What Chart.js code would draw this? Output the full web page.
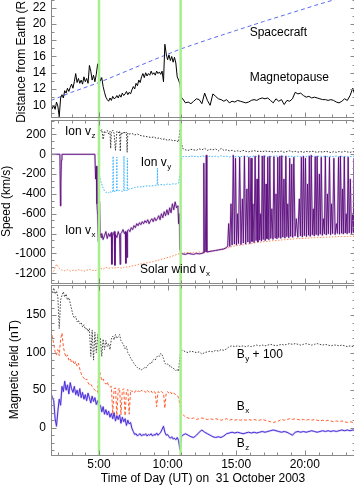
<!DOCTYPE html>
<html><head><meta charset="utf-8">
<script src="https://cdn.jsdelivr.net/npm/chart.js@4.4.1/dist/chart.umd.min.js"></script>
<style>
html,body{margin:0;padding:0;background:#fff;overflow:hidden;width:354px;height:485px;}
#c{position:absolute;left:0;top:-10px;}
</style></head><body>
<canvas id="c" width="360" height="495" style="width:360px;height:495px"></canvas>
<script>
// ---------- time grids (hours UT) ----------
const coarseHours = [1.5,1.7,1.9,
 2.1,2.3,2.5,2.7,2.9, 3.1,3.3,3.5,3.7,3.9, 4.1,4.3,4.5,4.7,4.9,
 5.1,5.3,5.5,5.7,5.9, 6.1,6.3,6.5,6.7,6.9, 7.1,7.3,7.5,7.7,7.9,
 8.1,8.3,8.5,8.7,8.9, 9.1,9.3,9.5,9.7,9.9, 10.1,10.3,10.5,10.7,10.9,
 11.1,11.3,11.5,11.7,11.9, 12.1,12.3,12.5,12.7,12.9, 13.1,13.3,13.5,13.7,13.9,
 14.1,14.3,14.5,14.7,14.9, 15.1,15.3,15.5,15.7,15.9, 16.1,16.3,16.5,16.7,16.9,
 17.1,17.3,17.5,17.7,17.9, 18.1,18.3,18.5,18.7,18.9, 19.1,19.3,19.5,19.7,19.9,
 20.1,20.3,20.5,20.7,20.9, 21.1,21.3,21.5,21.7,21.9, 22.1,22.3,22.5,22.7,22.9,
 23.1,23.3,23.5,23.7];
const fineHours = [1.5,1.6,1.7,1.8,1.9,2.0,2.1,2.2,2.3,2.4,
 2.5,2.6,2.7,2.8,2.9,3.0,3.1,3.2,3.3,3.4,
 3.5,3.6,3.7,3.8,3.9,4.0,4.1,4.2,4.3,4.4,
 4.5,4.6,4.7,4.8,4.9,5.0,5.1,5.2,5.3,5.4,
 5.5,5.6,5.7,5.8,5.9,6.0,6.1,6.2,6.3,6.4,
 6.5,6.6,6.7,6.8,6.9,7.0,7.1,7.2,7.3,7.4,
 7.5,7.6,7.7,7.8,7.9,8.0,8.1,8.2,8.3,8.4,
 8.5,8.6,8.7,8.8,8.9,9.0,9.1,9.2,9.3,9.4,
 9.5,9.6,9.7,9.8,9.9,10.0,10.1,10.2,10.3,10.4,
 10.5,10.6,10.7,10.8,10.9,11.0];
const fieldHours = fineHours.concat(coarseHours.slice(48)); // 1.5..11.0 by 0.1, then 11.1..23.7 by 0.2
const tailHours = coarseHours.slice(49);                     // 11.3 ... 23.7

// ---------- panel 1: distance (R_E) ----------
const magnetopause = [
 10.2,9.6,10.0,9.5,10.4,9.9,8.6,10.9,11.3,10.9,
 11.8,11.5,12.1,11.7,12.2,12.6,12.1,12.9,13.9,12.8,
 13.3,12.7,13.1,12.6,13.5,12.9,13.3,12.7,14.9,14.2,
 13.1,13.7,12.9,13.8,15.1,13.9,13.0,13.4,12.3,11.6,
 11.0,10.7,10.5,10.9,10.6,11.1,10.8,10.9,11.2,10.9,
 11.3,11.0,11.5,11.2,11.4,11.7,11.3,11.6,11.4,11.9,
 12.3,12.0,12.7,12.4,13.1,12.8,13.5,13.9,13.4,14.0,
 13.6,13.9,13.7,14.2,13.8,14.0,13.7,14.2,13.9,14.1,
 13.8,14.2,12.9,17.5,16.3,15.6,16.2,15.5,16.0,15.3,
 15.9,15.2,13.5,13.1,12.6,11.0,
 10.8,10.3,10.4,10.2,10.5, 10.8,10.7,10.2,11.5,10.6, 10.0,11.4,11.1,10.8,10.7,
 10.5,10.7,10.3,10.5,10.4, 10.6,10.5,10.4,10.3,10.4, 10.6,10.7,10.6,10.8,10.9,
 10.8,10.9,10.6,10.3,10.8, 10.5,10.7,10.1,10.6,10.5, 10.8,11.6,11.4,11.5,11.2,
 11.0,11.1,10.9,11.0,10.9, 10.8,10.7,10.7,10.6,10.7, 10.6,10.4,10.3,10.5,10.8,
 10.6,11.2,12.1,11.0];
const scHours = [1.5, 3, 5, 7, 9, 11, 13, 15, 17, 19, 21, 23.7];
const scDist  = [10.6, 11.6, 12.8, 14.2, 15.6, 16.95, 18.1, 19.2, 20.3, 21.35, 22.4, 23.75];

// ---------- panel 2: speeds (km/s) ----------
const solarWindVx = [-1200,-1180,-1110,
 -1150,-1170,-1175,-1165,-1180, -1170,-1175,-1165,-1170,-1180, -1170,-1160,-1170,-1175,-1165,
 -1150,-1160,-1140,-1150,-1145, -1150,-1140,-1145,-1150,-1135, -1140,-1130,-1125,-1120,-1110,
 -1105,-1100,-1095,-1090,-1085, -1075,-1070,-1060,-1055,-1045, -1040,-1030,-1020,-1010,-1000,
 -995,-995,-990,-995,-990, -990,-985,-990,-980,-985, -975,-970,-975,-965,-960,
 -955,-950,-940,-930,-925, -920,-915,-915,-910,-905, -900,-895,-890,-888,-885,
 -880,-878,-875,-872,-870, -868,-865,-862,-860,-858, -855,-853,-850,-850,-848,
 -846,-845,-843,-842,-840, -840,-838,-836,-835,-834, -833,-832,-831,-830,-830,
 -829,-828,-827,-826];

const vzHours = [4.95,5.0,5.1,5.2,5.3,5.4,5.5,5.6,5.7,5.8,
 5.85,5.9,6.0,6.1,6.2,6.3,6.4,6.5,6.55,6.6,
 6.7,6.8,6.9,7.0,7.05,7.1,7.2,7.4,7.6,7.8,
 8.0,8.2,8.4,8.6,8.8,9.0,9.2,9.4,9.6,9.8,
 10.0,10.2,10.4,10.6,10.8,10.9,11.0,11.1].concat(tailHours);
const ionVz = [0,260,230,250,150,235,220,240,205,230,
 60,220,245,210,40,230,215,235,30,220,
 200,230,210,225,20,215,205,210,195,205,
 190,185,180,175,170,175,160,165,150,155,
 140,150,135,140,125,250,120,60,
 45,40,50,45, 40,55,45,60,40, 50,45,55,35,60, 40,45,35,40,30, 35,28,40,30,25,
 30,38,28,32,25, 35,28,30,22,30, 26,32,20,28,35, 25,30,22,28,20, 30,24,32,26,20,
 28,22,30,25,18, 26,20,28,22,30, 24,20,26,22];

const vyHours = [4.95,5.0,5.1,5.2,5.3,5.4,5.5,5.6,5.7,5.8,
 5.9,6.0,6.03,6.06,6.2,6.28,6.3,6.32,6.5,6.7,
 6.8,6.82,6.84,7.0,7.05,7.07,7.09,7.2,7.4,7.6,
 7.8,8.0,8.2,8.4,8.6,8.8,9.0,9.2,9.24,9.26,
 9.28,9.4,9.6,9.8,10.0,10.2,10.4,10.6,10.8,10.9,
 11.0,11.1].concat(tailHours);
const ionVy = [0,-190,-260,-300,-340,-370,-385,-380,-390,-375,
 -385,-380,-20,-380,-370,-375,-30,-370,-365,-375,
 -370,-15,-365,-360,-370,-40,-360,-350,-345,-335,
 -330,-330,-325,-320,-318,-322,-315,-312,-310,-140,
 -310,-308,-305,-310,-300,-305,-298,-300,-290,-200,
 -60,-25,
 -20,-25,-18,-22, -20,-28,-15,-22,-25, -18,-24,-20,-26,-15, -22,-20,-28,-18,-24,
 -20,-25,-18,-22,-20, -26,-18,-22,-20,-24, -18,-22,-25,-20,-16, -22,-20,-26,-18,-22,
 -20,-24,-18,-22,-20, -25,-18,-22,-20,-24, -18,-22,-20,-26,-20, -22,-18,-24,-20,-22,
 -20,-25,-18,-22];

const vxHours = [
 1.5,2.15,2.19,2.22,2.26,2.3,4.7,4.75,4.8,4.85,4.9,4.95,
 5.0,5.04,5.08,5.15,5.2,5.3,5.4,5.5,5.6,5.7,
 5.8,5.9,5.94,5.98,6.05,6.12,6.16,6.2,6.3,6.4,
 6.5,6.54,6.58,6.65,6.75,6.85,6.92,6.96,7.0,7.04,
 7.08,7.15,7.25,7.35,7.45,7.55,7.65,7.75,7.85,7.95,
 8.05,8.15,8.25,8.35,8.45,8.55,8.65,8.75,8.85,8.95,
 9.05,9.15,9.25,9.35,9.45,9.55,9.65,9.75,9.85,9.95,
 10.05,10.15,10.25,10.35,10.45,10.55,10.65,10.75,10.8,10.85,
 10.9,10.95,11.0,
 11.1,11.3,11.5,11.7,11.9,12.1,12.3,12.5,12.6,12.64,
 12.68,12.75,12.82,12.86,12.9,13.1,13.3,13.5,13.7,13.9,
 14.1,14.3,
 14.38,14.45,14.53,14.62,14.7,14.79,14.87,14.95,15.02,15.1,
 15.17,15.25,15.35,15.45,15.52,15.6,15.69,15.78,15.85,15.92,
 16.0,16.08,16.15,16.22,16.3,16.38,16.45,16.52,16.58,16.64,
 16.71,16.78,16.84,16.9,16.97,17.04,17.11,17.18,17.24,17.3,
 17.38,17.45,17.52,17.6,17.68,17.75,17.83,17.9,17.97,18.03,
 18.1,18.18,18.25,18.32,18.4,18.48,18.55,18.62,18.69,18.76,
 18.83,18.9,18.97,19.05,19.12,19.2,19.29,19.38,19.49,19.6,
 19.68,19.75,19.82,19.9,19.97,20.05,20.12,20.2,20.27,20.33,
 20.4,20.47,20.55,20.62,20.69,20.76,20.83,20.9,20.98,21.06,
 21.13,21.2,21.28,21.35,21.43,21.5,21.57,21.65,21.72,21.8,
 21.88,21.95,22.03,22.12,22.21,22.3,22.38,22.46,22.53,22.6,
 22.68,22.75,22.81,22.88,22.95,23.02,23.09,23.16,23.24,23.32,
 23.4,23.48,23.54,23.6,23.66,23.7];
const ionVx = [
 0,0,-520,-300,-60,0,0,-250,-120,-500,-620,-880,
 -760,-480,-790,-840,-800,-860,-820,-780,-850,-800,
 -830,-790,-1110,-830,-800,-780,-1120,-810,-840,-780,
 -820,-1110,-800,-790,-760,-800,-780,-1100,-790,-1040,
 -770,-760,-780,-740,-760,-720,-740,-700,-720,-690,
 -710,-680,-700,-670,-690,-660,-700,-670,-650,-680,
 -640,-670,-650,-620,-660,-600,-640,-580,-620,-560,
 -610,-540,-590,-500,-560,-480,-540,-520,-700,-600,
 -960,-990,-1000,
 -1005,-1010,-1000,-1005,-1010,-1000,-1005,-1000,-995,-90,
 -990,-980,-10,-985,-985,-980,-975,-970,-965,-960,
 -955,-940,
 -925,-700,-930,-500,-915,-10,-905,-40,-915,-600,
 -900,-30,-910,-450,-895,-20,-905,-350,-885,-30,
 -900,-40,-880,-500,-890,-20,-870,-250,-885,-10,
 -865,-600,-875,-20,-860,-15,-870,-300,-852,-30,
 -862,-20,-848,-550,-858,-25,-842,-400,-852,-30,
 -840,-20,-848,-15,-835,-250,-845,-20,-830,-500,
 -842,-40,-828,-100,-838,-30,-825,-650,-836,-450,
 -822,-30,-834,-20,-820,-40,-830,-300,-816,-20,
 -828,-10,-812,-550,-824,-25,-810,-20,-820,-200,
 -806,-30,-818,-650,-804,-20,-814,-400,-802,-30,
 -812,-500,-800,-40,-810,-700,-798,-30,-806,-20,
 -796,-350,-804,-25,-794,-600,-802,-30,-792,-250,
 -800,-600,-790,-40,-798,-795];

// ---------- panel 3: magnetic field (nT) ----------
const byPlus100 = [
 184,180,186,178,182,174,132,170,176,181,
 174,178,170,173,166,158,150,146,148,141,
 143,138,140,134,137,131,133,128,132,95,
 130,90,127,100,124,85,120,95,118,104,
 116,108,112,104,118,122,117,124,119,121,
 124,116,113,110,105,108,100,97,93,90,
 87,84,82,80,78,79,77,78,80,79,
 82,84,86,85,89,91,90,94,96,95,
 99,97,92,86,84,85,82,83,80,79,
 78,76,78,75,96,104,
 103,101,100,102,101, 100,101,98,100,101, 102,101,103,102,104,
 103,105,108,109,108, 109,108,109,108,109, 108,109,110,109,110,
 109,110,111,110,109, 110,111,110,111,112, 111,112,111,110,111,
 112,111,110,111,112, 111,110,111,110,109, 110,110,109,110,109,
 108,109,108,108];
const bx = [
 130,121,112,101,97,104,96,118,126,108,
 99,94,97,90,92,87,89,84,88,82,
 86,78,72,68,66,63,65,60,57,58,
 55,52,50,49,47,80,70,63,65,60,
 58,61,56,54,55,18,52,53,16,51,
 53,17,50,52,16,49,51,18,50,48,
 49,47,50,48,49,47,50,48,49,47,
 50,48,47,49,46,48,47,28,48,47,
 49,47,46,26,47,48,46,48,45,47,
 45,44,43,40,30,20,
 18,14,13,12,13, 11,12,13,12,11, 12,11,12,11,10,
 11,12,10,11,10, 11,10,11,10,11, 10,11,10,10,11,
 10,9,8,7,8, 9,11,10,11,12, 11,12,11,10,11,
 10,11,10,11,10, 9,10,9,10,9, 8,9,8,9,8,
 7,8,7,8];
const bz = [
 46,40,36,12,2,22,38,30,55,48,
 62,50,57,45,60,52,47,55,44,50,
 42,52,40,47,38,44,36,46,40,33,
 42,35,40,31,36,26,30,21,28,18,
 24,17,22,14,19,12,20,9,16,11,
 17,6,14,8,12,3,10,5,7,-1,
 -5,-9,-8,-11,-9,-8,-11,-9,-10,-8,
 -11,-9,-10,-8,-11,-9,-10,-7,-10,-8,
 -6,-2,2,-6,-10,-9,-12,-14,-12,-15,
 -14,-16,-13,-17,-29,-12,
 -10,-8,-10,-12,-13, -10,-6,-3,-6,-8, -10,-12,-13,-12,-13,
 -11,-8,-7,-6,-7, -6,-7,-8,-7,-6, -7,-6,-7,-6,-5,
 -6,-5,-4,-3,-4, -5,-6,-5,-6,-8, -10,-6,-5,-6,-5,
 -6,-5,-4,-5,-6, -5,-4,-5,-4,-5, -4,-5,-4,-3,-4,
 -3,-4,-3,-4];

// ---------- ticks, events ----------
const distTicks = [10,12,14,16,18,20,22];
const speedTicks = [200,0,-200,-400,-600,-800,-1000,-1200];
const fieldTicks = [0,50,100,150];
const timeTickValues = [5,10,15,20];
const timeTickLabels = ['5:00','10:00','15:00','20:00'];
const eventHours = [5.0, 10.95];

const seriesNotes = [
  {axis:'y1', t:15.98, v:18.97, text:'Spacecraft'},
  {axis:'y1', t:15.98, v:13.44, text:'Magnetopause'},
  {axis:'y2', t:2.52, v:232, text:'Ion v', sub:'z'},
  {axis:'y2', t:8.04, v:-85, text:'Ion v', sub:'y'},
  {axis:'y2', t:2.52, v:-768, text:'Ion v', sub:'x'},
  {axis:'y2', t:7.99, v:-1162, text:'Solar wind v', sub:'x'},
  {axis:'y3', t:15.04, v:97, text:'B', sub:'y', after:' + 100'},
  {axis:'y3', t:15.04, v:28.5, text:'B', sub:'x'},
  {axis:'y3', t:15.04, v:-21.7, text:'B', sub:'z'}
];

const FONT = "'Liberation Sans', Arial, Helvetica, sans-serif";
Chart.defaults.font.family = FONT;
Chart.defaults.font.size = 12;
Chart.defaults.color = '#000';

const xy = (xs, ys) => xs.map((x, i) => ({x, y: ys[i]}));
function line(label, yAxisID, data, color, width, dash, extra) {
  return Object.assign({label, yAxisID, data, borderColor: color, borderWidth: width,
    borderDash: dash || [], pointRadius: 0, tension: 0, fill: false,
    borderJoinStyle: 'round', borderCapStyle: 'butt'}, extra || {});
}
function yAxis(weight, stackWeight, min, max, tickVals, titleText, titlePad) {
  return {
    type: 'linear', position: 'left', stack: 'panels', stackWeight, weight, min, max,
    grid: {display: false, drawTicks: false}, border: {display: false},
    ticks: {padding: 5, autoSkip: false, callback: (v, i) => String(tickVals[i])},
    afterBuildTicks: s => { s.ticks = tickVals.map(v => ({value: v})); },
    afterFit: s => { s.width = 51; s.paddingTop = 0; s.paddingBottom = 0; },
    title: {display: true, text: titleText, padding: {top: titlePad, bottom: 0}, font: {size: 12}}
  };
}

const minorStepOf = {y1: 1, y2: 200 / 3, y3: 10};
const frameInset = {y1: [0, 1.3], y2: [1.3, 0.8], y3: [0.8, 0]};

const decor = {
  id: 'decor',
  afterDatasetsDraw(chart) {
    const {ctx, chartArea: ca, scales} = chart;
    const xs = scales.x;
    ctx.save();
    ctx.strokeStyle = '#a6ef8a'; ctx.lineWidth = 2.5;
    eventHours.forEach(h => {
      const px = xs.getPixelForValue(h);
      ctx.beginPath(); ctx.moveTo(px, ca.top); ctx.lineTo(px, ca.bottom + 0.5); ctx.stroke();
    });
    ctx.strokeStyle = '#8a8a8a'; ctx.lineWidth = 1;
    const L = Math.round(ca.left) + 0.5, R = Math.round(ca.right) + 0.5;
    const seg = (x1, y1, x2, y2) => { ctx.beginPath(); ctx.moveTo(x1, y1); ctx.lineTo(x2, y2); ctx.stroke(); };
    ['y1', 'y2', 'y3'].forEach(id => {
      const s = scales[id];
      const T = Math.round(s.top + frameInset[id][0]) + 0.5;
      const B = Math.round(s.bottom - frameInset[id][1]) + 0.5;
      ctx.strokeRect(L, T, R - L, B - T);
      s.ticks.forEach(tk => {
        const py = Math.round(s.getPixelForValue(tk.value)) + 0.5;
        seg(L, py, L + 5, py); seg(R, py, R - 5, py);
      });
      const st = minorStepOf[id];
      for (let k = Math.ceil(s.min / st); k * st <= s.max; k++) {
        const py = Math.round(s.getPixelForValue(k * st)) + 0.5;
        if (py <= T || py >= B) continue;
        seg(L, py, L + 3, py); seg(R, py, R - 3, py);
      }
      for (let h = Math.ceil(xs.min); h <= xs.max; h++) {
        const px = Math.round(xs.getPixelForValue(h)) + 0.5;
        const len = h % 5 === 0 ? 5 : 3;
        seg(px, T, px, T + len); seg(px, B, px, B - len);
      }
    });
    ctx.restore();
  },
  afterDraw(chart) {
    const {ctx, scales} = chart;
    ctx.save();
    ctx.fillStyle = '#000'; ctx.textBaseline = 'middle'; ctx.textAlign = 'left';
    seriesNotes.forEach(n => {
      let x = scales.x.getPixelForValue(n.t);
      const y = scales[n.axis].getPixelForValue(n.v);
      ctx.font = '12px ' + FONT;
      ctx.fillText(n.text, x, y); x += ctx.measureText(n.text).width;
      if (n.sub) {
        ctx.font = '8px ' + FONT;
        ctx.fillText(n.sub, x + 0.5, y + 4); x += ctx.measureText(n.sub).width + 0.5;
      }
      if (n.after) { ctx.font = '12px ' + FONT; ctx.fillText(n.after, x, y); }
    });
    ctx.restore();
  }
};

new Chart(document.getElementById('c'), {
  type: 'line',
  data: {
    datasets: [
      line('Magnetopause', 'y1', xy(fieldHours, magnetopause), '#000', 1),
      line('Spacecraft', 'y1', xy(scHours, scDist), '#5a6cf0', 1, [4, 3]),
      line('Ion vx', 'y2', xy(vxHours, ionVx), '#5b0c7c', 0.9, null, {borderJoinStyle: 'bevel'}),
      line('Ion vx band', 'y2', xy(vxHours, ionVx), 'rgba(180,140,205,0.45)', 2),
      line('Ion vz', 'y2', xy(vzHours, ionVz), '#333', 1, [1.5, 1.5]),
      line('Ion vy', 'y2', xy(vyHours, ionVy), '#3cb4ff', 1, [1.5, 1.5]),
      line('Solar wind vx', 'y2', xy(coarseHours, solarWindVx), '#ff8c5a', 1, [1.5, 1.5]),
      line('Bz', 'y3', xy(fieldHours, bz), '#4b2ed8', 1),
      line('Bz band', 'y3', xy(fieldHours, bz), 'rgba(160,140,238,0.45)', 2),
      line('Bx', 'y3', xy(fieldHours, bx), '#ff5c2e', 1, [3, 2]),
      line('By + 100', 'y3', xy(fieldHours, byPlus100), '#444', 1, [1.5, 1.5])
    ]
  },
  options: {
    responsive: false, animation: false, devicePixelRatio: 1,
    layout: {padding: {left: 0, right: 5, top: 3, bottom: 0}, autoPadding: false},
    plugins: {legend: {display: false}, tooltip: {enabled: false}},
    scales: {
      x: {
        type: 'linear', position: 'bottom', min: 1.5, max: 23.66,
        grid: {display: false, drawTicks: false}, border: {display: false},
        ticks: {padding: 2, maxRotation: 0, autoSkip: false, callback: (v, i) => timeTickLabels[i]},
        afterBuildTicks: s => { s.ticks = timeTickValues.map(v => ({value: v})); },
        afterFit: s => { s.height = 30; s.paddingLeft = 0; s.paddingRight = 0; },
        title: {display: true, text: 'Time of Day (UT) on  31 October 2003', padding: 0, font: {size: 12, lineHeight: 1}}
      },
      y1: yAxis(3, 125.65, 8.36, 23.80, distTicks, 'Distance from Earth (RE)', 14.3),
      y2: yAxis(2, 165.5, -1310.3, 359.7, speedTicks, 'Speed (km/s)', -1),
      y3: yAxis(1, 170.85, -36.3, 191.1, fieldTicks, 'Magnetic field (nT)', 7.5)
    }
  },
  plugins: [decor]
});
</script></body></html>
